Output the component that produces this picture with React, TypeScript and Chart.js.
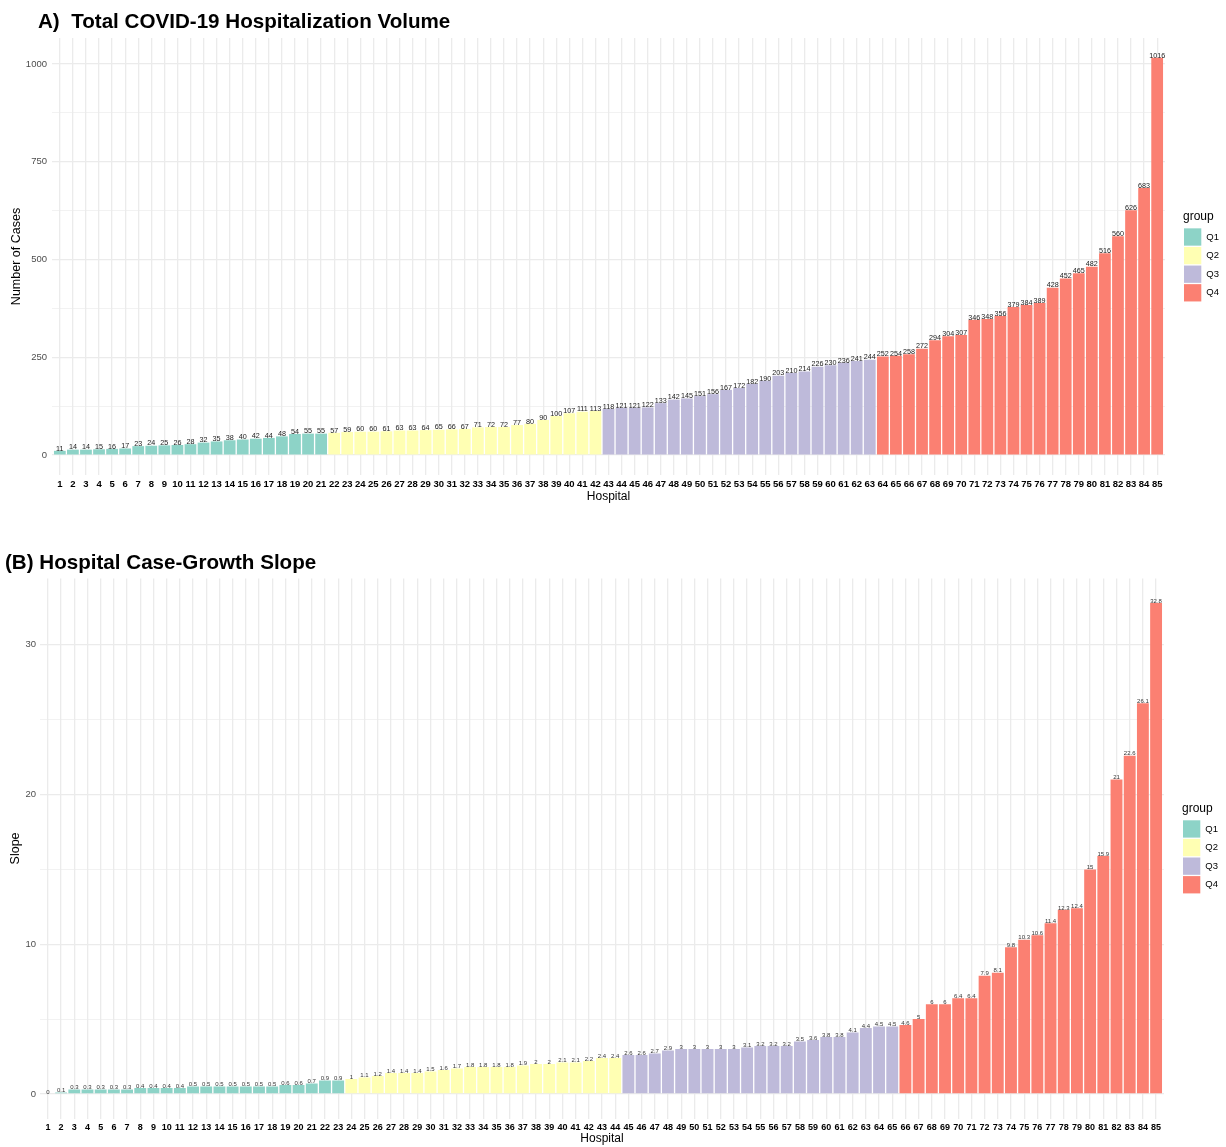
import React, { useEffect, useRef } from "react";
import { Chart, registerables } from "chart.js";

Chart.register(...registerables);

const FONT = "'Liberation Sans', Arial, Helvetica, sans-serif";

// ---------- data ----------
const hospitals = [
  "1", "2", "3", "4", "5", "6", "7", "8", "9", "10", "11", "12", "13", "14", "15", "16", "17",
  "18", "19", "20", "21", "22", "23", "24", "25", "26", "27", "28", "29", "30", "31", "32", "33",
  "34", "35", "36", "37", "38", "39", "40", "41", "42", "43", "44", "45", "46", "47", "48", "49",
  "50", "51", "52", "53", "54", "55", "56", "57", "58", "59", "60", "61", "62", "63", "64", "65",
  "66", "67", "68", "69", "70", "71", "72", "73", "74", "75", "76", "77", "78", "79", "80", "81",
  "82", "83", "84", "85",
];

const groupNames = ["Q1", "Q2", "Q3", "Q4"];
const groupColors = ["#8DD3C7", "#FFFFB3", "#BEBADA", "#FB8072"];

const casesQ1 = [11, 14, 14, 15, 16, 17, 23, 24, 25, 26, 28, 32, 35, 38, 40, 42, 44, 48, 54, 55, 55];
const casesQ2 = [57, 59, 60, 60, 61, 63, 63, 64, 65, 66, 67, 71, 72, 72, 77, 80, 90, 100, 107, 111, 113];
const casesQ3 = [118, 121, 121, 122, 133, 142, 145, 151, 156, 167, 172, 182, 190, 203, 210, 214, 226, 230, 236, 241, 244];
const casesQ4 = [252, 254, 258, 272, 294, 304, 307, 346, 348, 356, 379, 384, 389, 428, 452, 465, 482, 516, 560, 626, 683, 1016];

const slopeQ1 = [0, 0.1, 0.3, 0.3, 0.3, 0.3, 0.3, 0.4, 0.4, 0.4, 0.4, 0.5, 0.5, 0.5, 0.5, 0.5, 0.5, 0.5, 0.6, 0.6, 0.7, 0.9, 0.9];
const slopeQ2 = [1, 1.1, 1.2, 1.4, 1.4, 1.4, 1.5, 1.6, 1.7, 1.8, 1.8, 1.8, 1.8, 1.9, 2, 2, 2.1, 2.1, 2.2, 2.4, 2.4];
const slopeQ3 = [2.6, 2.6, 2.7, 2.9, 3, 3, 3, 3, 3, 3.1, 3.2, 3.2, 3.2, 3.5, 3.6, 3.8, 3.8, 4.1, 4.4, 4.5, 4.5];
const slopeQ4 = [4.6, 5, 6, 6, 6.4, 6.4, 7.9, 8.1, 9.8, 10.3, 10.6, 11.4, 12.3, 12.4, 15, 15.9, 21, 22.6, 26.1, 32.8];

const casesTicks = [0, 250, 500, 750, 1000];
const slopeTicks = [0, 10, 20, 30];

// ---------- plugins ----------
const barLabelPlugin = {
  id: "barLabels",
  afterDatasetsDraw(chart: any, _args: any, opts: any) {
    const { ctx } = chart;
    const meta = chart.getDatasetMeta(0);
    const data = chart.data.datasets[0].data as any[];
    ctx.save();
    ctx.font = opts.font;
    ctx.fillStyle = opts.color;
    ctx.textAlign = "center";
    ctx.textBaseline = "alphabetic";
    meta.data.forEach((el: any, i: number) => {
      ctx.fillText(String(data[i].y), el.x, el.y - opts.offset);
    });
    ctx.restore();
  },
};

const groupLegendPlugin = {
  id: "groupLegend",
  afterDraw(chart: any, _args: any, opts: any) {
    const { ctx, chartArea } = chart;
    const cy = (chartArea.top + chartArea.bottom) / 2;
    const x0 = chartArea.right + opts.gap;
    ctx.save();
    ctx.textAlign = "left";
    ctx.textBaseline = "middle";
    ctx.fillStyle = "#000";
    ctx.font = opts.titleFont;
    ctx.fillText(opts.title, x0 - 1, cy - 40);
    opts.names.forEach((name: string, k: number) => {
      const yc = cy - 19.5 + opts.pitch * k;
      ctx.fillStyle = opts.colors[k];
      ctx.fillRect(x0, yc - opts.box / 2, opts.box, opts.box);
      ctx.fillStyle = "#000";
      ctx.font = opts.labelFont;
      ctx.fillText(name, x0 + opts.box + 5, yc);
    });
    ctx.restore();
  },
};

type PanelProps = {
  top: number;
  height: number;
  groups: number[][];
  majors: number[];
  yTitle: string;
  padTop: number;
  xAxisH: number;
  yAxisW: number;
  chartRight: number;
  yTickPad: number;
  yTitlePad: number;
  xTitlePadBottom: number;
  xTickSize: number;
  labelFont: string;
  labelColor: string;
};

function Panel(p: PanelProps) {
  const ref = useRef<HTMLCanvasElement | null>(null);
  useEffect(() => {
    const values = p.groups.flat();
    const colors = p.groups.flatMap((g, k) => g.map(() => groupColors[k]));
    const points = values.map((v, i) => ({ x: Number(hospitals[i]), y: v }));
    const yMax = Math.max(...values);
    const pad = 0.05 * yMax;
    const yMin = -pad;
    const yTop = yMax + pad;
    const step = p.majors[1] - p.majors[0];
    const minors: number[] = [];
    for (let v = p.majors[0] - step / 2; v <= yTop; v += step) if (v >= yMin) minors.push(v);
    const yVals = [...p.majors, ...minors].sort((a, b) => a - b);
    const xVals = hospitals.map((h) => Number(h));

    const chart = new Chart(ref.current as HTMLCanvasElement, {
      type: "bar",
      data: {
        datasets: [
          {
            data: points as any,
            backgroundColor: colors,
            borderWidth: 0,
            barPercentage: 0.9,
            categoryPercentage: 1,
          },
        ],
      },
      plugins: [barLabelPlugin, groupLegendPlugin],
      options: {
        responsive: false,
        animation: false,
        layout: { padding: { top: p.padTop, right: 1226 - p.chartRight, bottom: 0, left: 0 } },
        plugins: {
          legend: { display: false },
          tooltip: { enabled: false },
          barLabels: { font: p.labelFont, color: p.labelColor, offset: 0.3 },
          groupLegend: {
            gap: 19,
            box: 17.3,
            pitch: 18.6,
            title: "group",
            names: groupNames,
            colors: groupColors,
            titleFont: `12px ${FONT}`,
            labelFont: `9.5px ${FONT}`,
          },
        } as any,
        scales: {
          x: {
            type: "linear",
            min: xVals[0] - 0.6,
            max: xVals[xVals.length - 1] + 0.6,
            offset: false,
            grid: { color: "#EBEBEB", lineWidth: 1.3, drawTicks: false, offset: false },
            border: { display: false },
            afterBuildTicks: (scale: any) => {
              scale.ticks = xVals.map((v) => ({ value: v }));
            },
            afterFit: (scale: any) => {
              scale.height = p.xAxisH;
            },
            ticks: {
              autoSkip: false,
              maxRotation: 0,
              minRotation: 0,
              padding: 4,
              color: "#000",
              font: { family: FONT, size: p.xTickSize, weight: "bold" },
              callback: (_v: any, i: number) => hospitals[i],
            },
            title: {
              display: true,
              text: "Hospital",
              color: "#000",
              font: { family: FONT, size: 12 },
              padding: { top: 0, bottom: p.xTitlePadBottom },
            },
          },
          y: {
            min: yMin,
            max: yTop,
            grid: {
              color: "#EBEBEB",
              drawTicks: false,
              lineWidth: (ctx: any) => (ctx.tick && p.majors.includes(ctx.tick.value) ? 1.3 : 0.65),
            },
            border: { display: false },
            afterBuildTicks: (scale: any) => {
              scale.ticks = yVals.map((v) => ({ value: v }));
            },
            afterFit: (scale: any) => {
              scale.width = p.yAxisW;
            },
            ticks: {
              autoSkip: false,
              padding: p.yTickPad,
              color: "#4D4D4D",
              font: { family: FONT, size: 9.5 },
              callback: (v: any) => (p.majors.includes(v) ? String(v) : ""),
            },
            title: {
              display: true,
              text: p.yTitle,
              color: "#000",
              font: { family: FONT, size: 12.5 },
              padding: { top: p.yTitlePad, bottom: 0 },
            },
          },
        } as any,
      },
    });
    return () => chart.destroy();
  }, []);
  return (
    <div style={{ position: "absolute", left: 0, top: p.top, width: 1226, height: p.height }}>
      <canvas
        ref={ref}
        width={1226}
        height={p.height}
        style={{ display: "block", width: 1226, height: p.height }}
      />
    </div>
  );
}

const titleStyle: React.CSSProperties = {
  position: "absolute",
  fontFamily: FONT,
  fontWeight: "bold",
  fontSize: 20.6,
  lineHeight: "20px",
  whiteSpace: "pre",
  color: "#000",
};

export default function App() {
  useEffect(() => {
    document.body.style.overflow = "hidden";
  }, []);
  return (
    <div style={{ position: "absolute", left: 0, top: 0, width: 1226, height: 1147, background: "#fff" }}>
      <Panel
        top={0}
        height={510}
        groups={[casesQ1, casesQ2, casesQ3, casesQ4]}
        majors={casesTicks}
        yTitle="Number of Cases"
        padTop={38}
        xAxisH={35}
        yAxisW={52}
        chartRight={1165}
        yTickPad={5}
        yTitlePad={8.6}
        xTitlePadBottom={6.3}
        xTickSize={9.5}
        labelFont={`7.2px ${FONT}`}
        labelColor="#1a1a1a"
      />
      <Panel
        top={540}
        height={607}
        groups={[slopeQ1, slopeQ2, slopeQ3, slopeQ4]}
        majors={slopeTicks}
        yTitle="Slope"
        padTop={38.4}
        xAxisH={28.5}
        yAxisW={40}
        chartRight={1164}
        yTickPad={4}
        yTitlePad={7.6}
        xTitlePadBottom={0.8}
        xTickSize={9}
        labelFont={`6px ${FONT}`}
        labelColor="#333"
      />
      <div style={{ ...titleStyle, left: 38, top: 11 }}>{"A)  Total COVID-19 Hospitalization Volume"}</div>
      <div style={{ ...titleStyle, left: 5, top: 552 }}>{"(B) Hospital Case-Growth Slope"}</div>
    </div>
  );
}
